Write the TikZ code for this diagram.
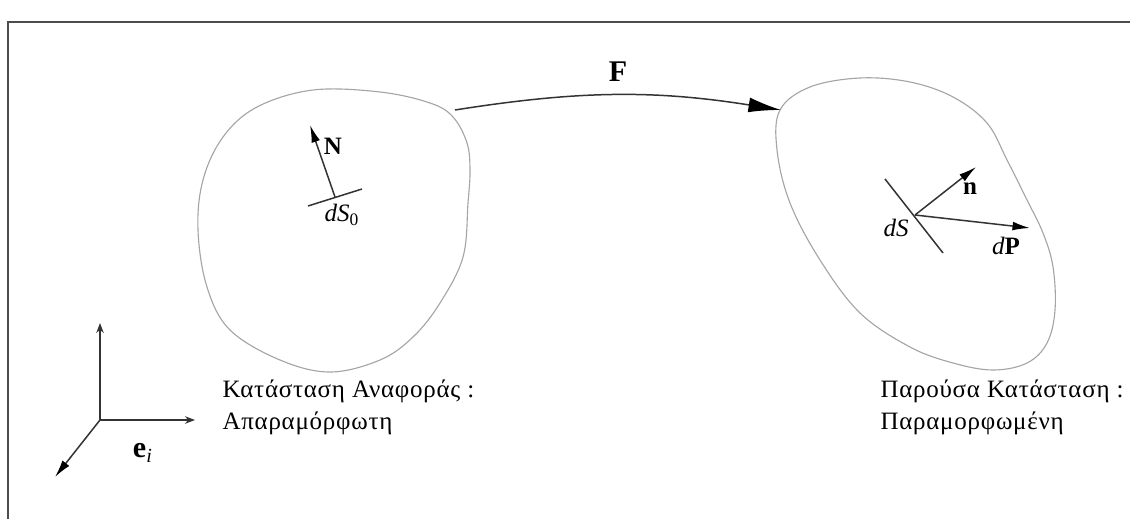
\documentclass[tikz,border=0pt]{standalone}
\usepackage{fontspec}
\setmainfont{Liberation Serif}
\usetikzlibrary{arrows.meta,positioning,calc}
\definecolor{blobgray}{RGB}{165,165,165}

\tikzset{
  body/.style={draw=blobgray, line width=0.45pt},
  vec/.style={draw=black!80, line width=0.6pt, -{Latex[length=7pt,width=3.5pt,fill=black,color=black]}},
  axis/.style={draw=black!80, line width=0.6pt, -{Stealth[length=4pt,width=3pt]}},
  statetext/.style={anchor=west, inner sep=0pt, align=left,
    font=\normalsize\addfontfeature{LetterSpace=3}},
}

\begin{document}
\begin{tikzpicture}[x=0.4pt,y=-0.4pt]
\useasboundingbox (0,0) rectangle (1130,519);
% frame
\draw[line width=0.8pt, black!70] (8,519) -- (8,22) -- (1130,22);

% reference configuration
\draw[body] plot[smooth cycle, tension=0.6] coordinates {
  (313,90) (380,92) (430,103) (453,117) (467,143) (470,170) (468,203)
  (463,257) (440,303) (413,337) (380,360) (330,372) (280,360) (230,330)
  (207,287) (198,230) (203,180) (223,137) (257,107)};
\coordinate (refR) at (455,110);

% current configuration
\draw[body] plot[smooth cycle, tension=0.6] coordinates {
  (780,110) (810,87) (860,78) (910,82) (953,97) (987,123) (1007,160)
  (1027,200) (1043,233) (1053,267) (1055,310) (1047,343) (1027,363)
  (993,370) (953,363) (910,347) (860,313) (820,260) (790,203) (777,150)};
\coordinate (curL) at (781,110);

% deformation map
\draw[vec, -{Latex[length=13pt,width=6pt,color=black]}] (refR) to[bend left=9]
  node[above=2pt, font=\large\bfseries] (F) {F} (curL);

% surface element dS0
\coordinate (P0) at (335,197);
\coordinate (Ntip) at (310,125);
\draw[black!80, line width=0.6pt] (308,206) -- (362,189);
\draw[vec] (P0) -- (Ntip);
\node[font=\bfseries] (Nlab) at (333,146) {N};
\node (dS0) at (342,215) {\textit{dS}\textsubscript{0}};

% surface element dS
\coordinate (P) at (915,215);
\coordinate (ntip) at (976,167);
\coordinate (dPtip) at (1030,228);
\draw[black!80, line width=0.6pt] (885,179) -- (943,253);
\draw[vec] (P) -- (ntip);
\draw[vec] (P) -- (dPtip);
\node[font=\bfseries] (nlab) at (970,189) {n};
\node (dSlab) at (896,228) {\textit{dS}};
\node (dPlab) at (1006,246) {\textit{d}\textbf{P}};

% base vectors
\coordinate (O) at (100,420);
\coordinate (e2) at (100,323);
\coordinate (e1) at (195,420);
\coordinate (e3) at (55,477);
\draw[axis] (O) -- (e2);
\draw[axis] (O) -- (e1);
\draw[vec] (O) -- (e3);
\node[font=\large] (elab) at (143,453) {\textbf{e}\textsubscript{\textit{i}}};

% state labels
\node[statetext] (refText) at (222,391) {Κατάσταση Αναφοράς :};
\node[statetext] (refText2) at (222,423) {Απαραμόρφωτη};
\node[statetext] (curText) at (880,391) {Παρούσα Κατάσταση :};
\node[statetext] (curText2) at (880,423) {Παραμορφωμένη};
\end{tikzpicture}
\end{document}
